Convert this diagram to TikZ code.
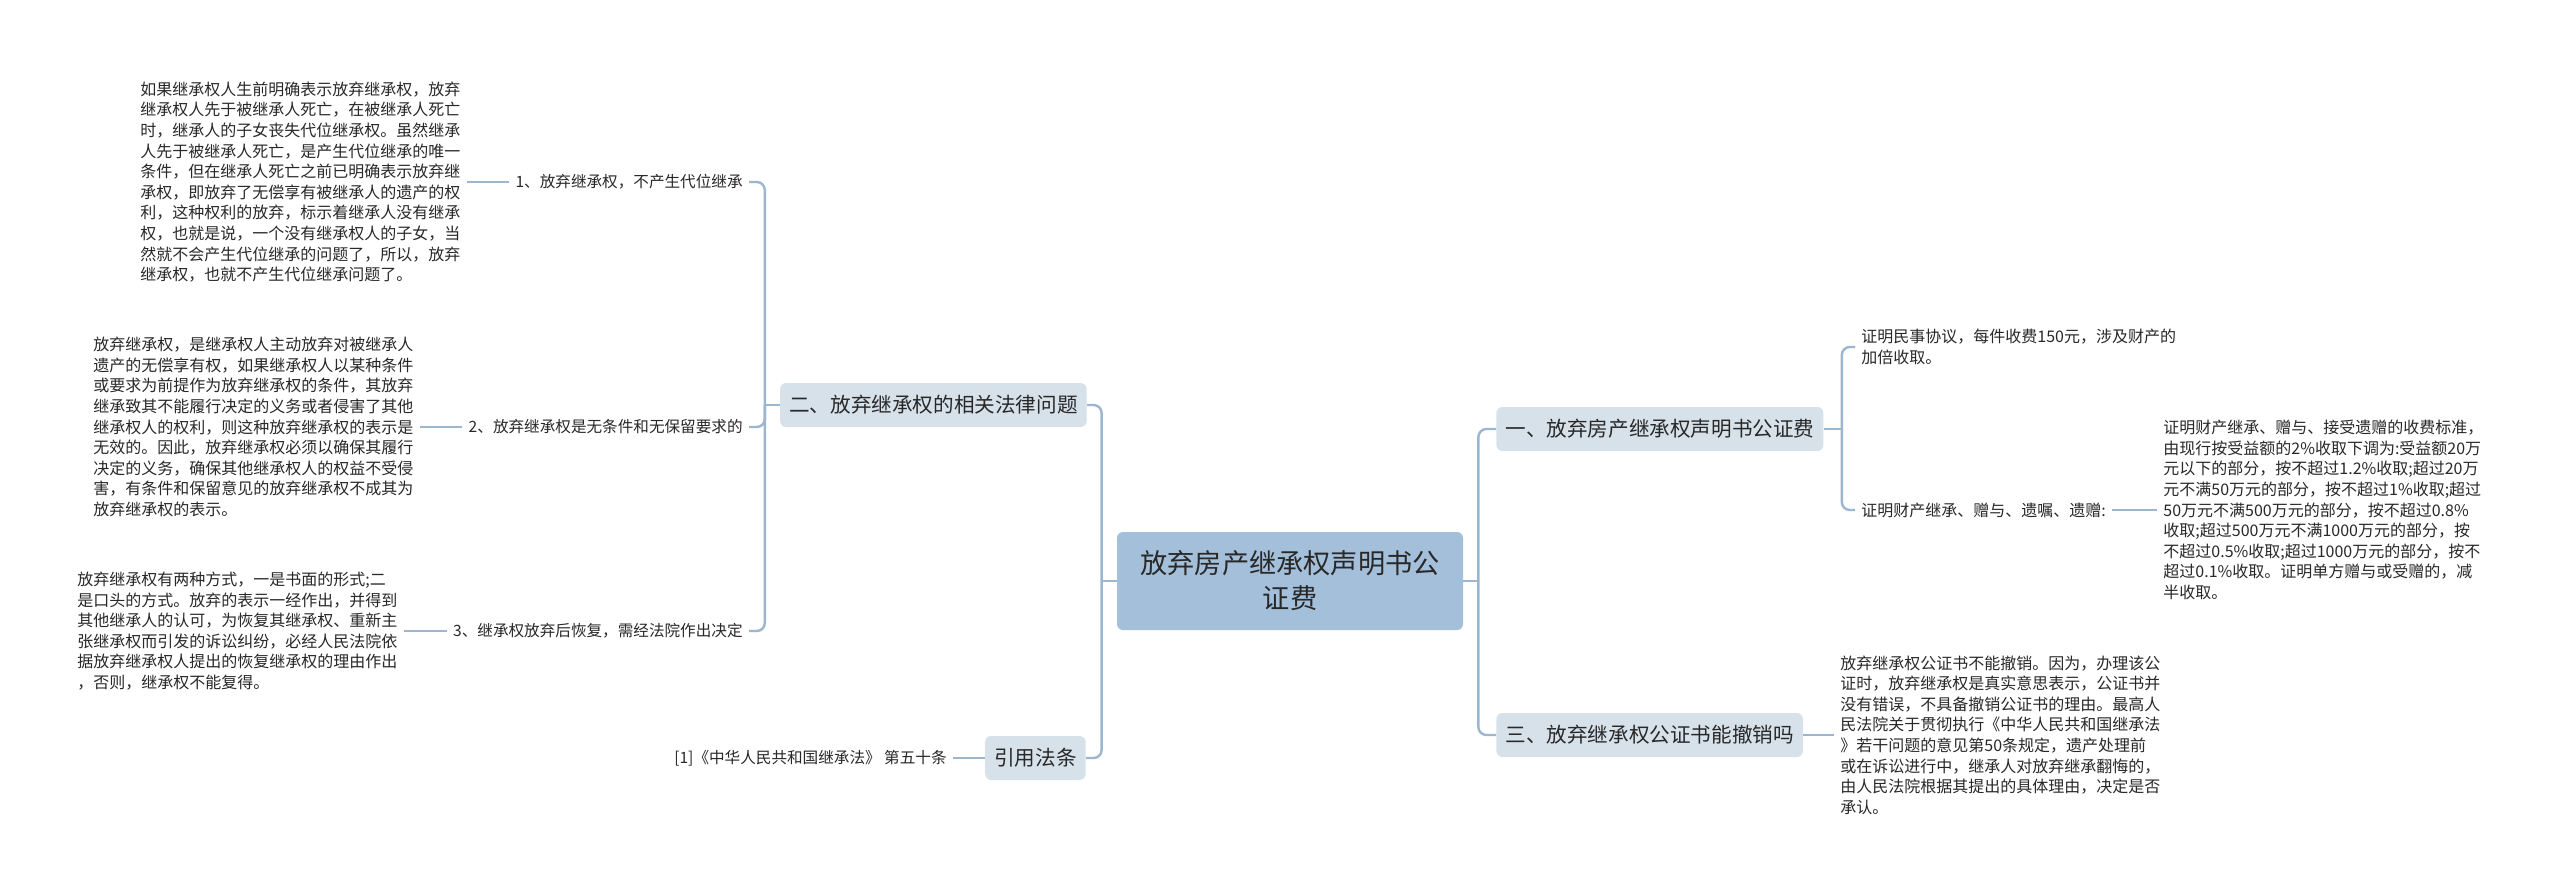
\documentclass[tikz,border=0pt]{standalone}
\usepackage{fontspec}
\setmainfont{Noto Sans CJK SC}
\definecolor{HeirBlue}{RGB}{164, 191, 218}
\definecolor{HeirLight}{RGB}{214, 225, 234}
\definecolor{HeirLine}{RGB}{157, 182, 207}
\definecolor{HeirText}{RGB}{40, 40, 40}
\usepackage{tikz}
\usetikzlibrary{calc}

\tikzset{
    rootbox/.style={fill=HeirBlue, rounded corners=3pt, minimum width=173pt, minimum height=49pt, align=center, text=HeirText, font=\fontsize{13.6pt}{17.5pt}\selectfont},
    topicbox/.style={fill=HeirLight, rounded corners=3pt, minimum height=22pt, inner xsep=4.5pt, text=HeirText, font=\fontsize{10.3pt}{12pt}\selectfont},
    leaf/.style={inner sep=3pt, text=HeirText, font=\fontsize{7.8pt}{10pt}\selectfont},
    para/.style={inner sep=3pt, align=left, text=HeirText, font=\fontsize{8pt}{10.3pt}\selectfont},
    link/.style={draw=HeirLine, line width=1.2pt, rounded corners=4pt},
}

\begin{document}
\begin{tikzpicture}[x=0.5pt, y=-0.5pt]
    \fill[white] (0,0) rectangle (2560,894);
    \useasboundingbox (0,0) rectangle (2560,894);

    \node[rootbox] (c) at (1290,581) {放弃房产继承权声明书公\\证费};

    \node[topicbox, anchor=west] (t1) at (1496,429) {一、放弃房产继承权声明书公证费};
    \node[topicbox, anchor=east] (t2) at (1087,405) {二、放弃继承权的相关法律问题};
    \node[topicbox, anchor=west] (t3) at (1496,735) {三、放弃继承权公证书能撤销吗};
    \node[topicbox, anchor=east] (t4) at (1086,758) {引用法条};

    \node[leaf, anchor=east] (l1) at (749,182) {1、放弃继承权，不产生代位继承};
    \node[leaf, anchor=east] (l2) at (749,427) {2、放弃继承权是无条件和无保留要求的};
    \node[leaf, anchor=east] (l3) at (749,631) {3、继承权放弃后恢复，需经法院作出决定};

    \node[para, anchor=west] (p1) at (134,182) {如果继承权人生前明确表示放弃继承权，放弃\\继承权人先于被继承人死亡，在被继承人死亡\\时，继承人的子女丧失代位继承权。虽然继承\\人先于被继承人死亡，是产生代位继承的唯一\\条件，但在继承人死亡之前已明确表示放弃继\\承权，即放弃了无偿享有被继承人的遗产的权\\利，这种权利的放弃，标示着继承人没有继承\\权，也就是说，一个没有继承权人的子女，当\\然就不会产生代位继承的问题了，所以，放弃\\继承权，也就不产生代位继承问题了。};
    \node[para, anchor=west] (p2) at (87,427) {放弃继承权，是继承权人主动放弃对被继承人\\遗产的无偿享有权，如果继承权人以某种条件\\或要求为前提作为放弃继承权的条件，其放弃\\继承致其不能履行决定的义务或者侵害了其他\\继承权人的权利，则这种放弃继承权的表示是\\无效的。因此，放弃继承权必须以确保其履行\\决定的义务，确保其他继承权人的权益不受侵\\害，有条件和保留意见的放弃继承权不成其为\\放弃继承权的表示。};
    \node[para, anchor=west] (p3) at (71,631) {放弃继承权有两种方式，一是书面的形式;二\\是口头的方式。放弃的表示一经作出，并得到\\其他继承人的认可，为恢复其继承权、重新主\\张继承权而引发的诉讼纠纷，必经人民法院依\\据放弃继承权人提出的恢复继承权的理由作出\\，否则，继承权不能复得。};

    \node[leaf, anchor=east] (cite) at (953,758) {[1]《中华人民共和国继承法》 第五十条};

    \node[para, anchor=west] (a1) at (1855,347) {证明民事协议，每件收费150元，涉及财产的\\加倍收取。};
    \node[para, anchor=west] (a2) at (1855,510) {证明财产继承、赠与、遗嘱、遗赠:};
    \node[para, anchor=west] (rp1) at (2157,510) {证明财产继承、赠与、接受遗赠的收费标准，\\由现行按受益额的2\%收取下调为:受益额20万\\元以下的部分，按不超过1.2\%收取;超过20万\\元不满50万元的部分，按不超过1\%收取;超过\\50万元不满500万元的部分，按不超过0.8\%\\收取;超过500万元不满1000万元的部分，按\\不超过0.5\%收取;超过1000万元的部分，按不\\超过0.1\%收取。证明单方赠与或受赠的，减\\半收取。};
    \node[para, anchor=west] (rp2) at (1834,735) {放弃继承权公证书不能撤销。因为，办理该公\\证时，放弃继承权是真实意思表示，公证书并\\没有错误，不具备撤销公证书的理由。最高人\\民法院关于贯彻执行《中华人民共和国继承法\\》若干问题的意见第50条规定，遗产处理前\\或在诉讼进行中，继承人对放弃继承翻悔的，\\由人民法院根据其提出的具体理由，决定是否\\承认。};

    \coordinate (jl) at ($(c.west)+(-15,0)$);
    \coordinate (jr) at ($(c.east)+(15,0)$);
    \coordinate (j2) at ($(t2.west)+(-15,0)$);
    \coordinate (j1) at ($(t1.east)+(18,0)$);

    \draw[link] (c.west) -- (jl);
    \draw[link] (t2.east) -| (jl) |- (t4.east);
    \draw[link] (c.east) -- (jr);
    \draw[link] (t1.west) -| (jr) |- (t3.west);

    \draw[link] (t2.west) -- (j2);
    \draw[link] (l1.east) -| (j2) |- (l3.east);
    \draw[link] (j2) |- (l2.east);
    \draw[link] (l1.west) -- (p1.east);
    \draw[link] (l2.west) -- (p2.east);
    \draw[link] (l3.west) -- (p3.east);

    \draw[link] (t4.west) -- (cite.east);

    \draw[link] (t1.east) -- (j1);
    \draw[link] (a1.west) -| (j1) |- (a2.west);
    \draw[link] (a2.east) -- (rp1.west);
    \draw[link] (t3.east) -- (rp2.west);
\end{tikzpicture}
\end{document}
